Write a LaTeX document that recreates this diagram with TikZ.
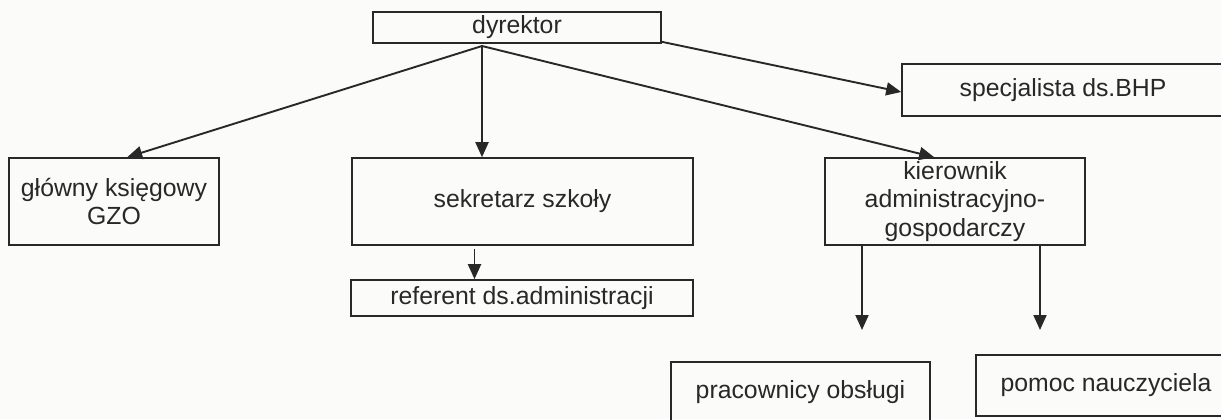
\documentclass[tikz,border=0pt]{standalone}
\usepackage{fontspec}
\setmainfont{Liberation Sans}
\usetikzlibrary{arrows.meta,calc}
\definecolor{ink}{RGB}{40,40,40}
\definecolor{paper}{RGB}{251,251,249}
\tikzset{
  box/.style={draw=ink, line width=0.8pt, inner sep=0pt, align=center,
    text=ink, font=\fontsize{12.4pt}{14pt}\selectfont},
  arr/.style={draw=ink, line width=0.95pt, -{Triangle[length=7.5pt,width=6.5pt]}}
}
\begin{document}
\begin{tikzpicture}[x=0.5pt,y=-0.5pt]
\fill[paper] (0,0) rectangle (1221,419);
\useasboundingbox (0,0) rectangle (1221,419);
% boxes
\node[box, minimum width=144pt, minimum height=15.5pt] (dyr) at (517,27.5) {dyrektor};
\node[box, minimum width=161pt, minimum height=26pt] (bhp) at (1063,90) {specjalista ds.BHP};
\node[box, minimum width=105pt, minimum height=43.5pt] (glo) at (114,201.5) {główny księgowy\\GZO};
\node[box, minimum width=170.5pt, minimum height=43.5pt] (sek) at (522.5,201.5) {sekretarz szkoły};
\node[box, minimum width=130pt, minimum height=43.5pt, font=\fontsize{12.4pt}{14.25pt}\selectfont] (kie) at (955,201.5) {kierownik\\administracyjno-\\gospodarczy};
\node[box, minimum width=171pt, minimum height=18pt] (ref) at (522,298) {referent ds.administracji};
\node[box, minimum width=129.5pt, minimum height=30.5pt] (pra) at (800.5,392.5) {pracownicy obsługi};
\node[box, minimum width=130pt, minimum height=30.5pt] (pom) at (1106,385.5) {pomoc nauczyciela};
% connectors
\coordinate (o) at (482,46);
\draw[arr] (o) -- ($(glo.north west)+(119,0)$);
\draw[arr] (o) -- (o |- sek.north);
\draw[arr] (o) -- ($(kie.north west)+(110,0)$);
\draw[arr] ($(dyr.south east)+(0,-2)$) -- ($(bhp.west)+(0,2)$);
\coordinate (s1) at ($(sek.south)+(-48,3)$);
\draw[arr] (s1) -- (s1 |- ref.north);
\coordinate (k1) at (862,330);
\coordinate (k2) at (1040,330);
\draw[arr] (k1 |- kie.south) -- (k1);
\draw[arr] (k2 |- kie.south) -- (k2);
\end{tikzpicture}
\end{document}
